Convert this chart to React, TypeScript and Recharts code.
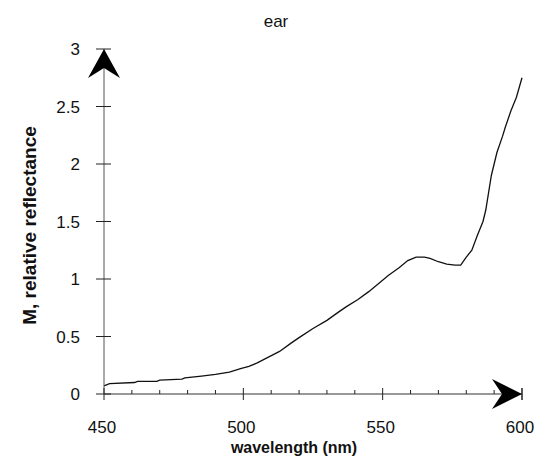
import { LineChart, Line, XAxis, YAxis, ReferenceDot, Label } from 'recharts';

// wavelength (nm) and relative reflectance
const wavelengths = [
  450, 452, 461, 462, 469, 470, 478, 479, 485, 490, 495, 499, 502, 505, 509, 513, 517, 520,
  525, 530, 534, 537, 541, 545, 549, 552, 556, 559, 562, 565, 567, 570, 573, 576, 578, 580,
  582, 584, 586, 587, 589, 591, 593, 594, 596, 598, 600,
];
const reflectance = [
  0.07, 0.09, 0.1, 0.11, 0.11, 0.12, 0.13, 0.14, 0.155, 0.17, 0.19, 0.22, 0.24, 0.27, 0.32, 0.37, 0.44, 0.49,
  0.57, 0.64, 0.71, 0.76, 0.82, 0.89, 0.97, 1.03, 1.1, 1.16, 1.19, 1.19, 1.18, 1.15, 1.13, 1.12, 1.12, 1.19,
  1.25, 1.38, 1.5, 1.6, 1.9, 2.1, 2.24, 2.32, 2.46, 2.58, 2.75,
];
const xTicks = [450, 460, 470, 480, 490, 500, 510, 520, 530, 540, 550, 560, 570, 580, 590, 600];
const xLabels = [450, 500, 550, 600];
const yTicks = [0, 0.5, 1, 1.5, 2, 2.5, 3];

const data = wavelengths.map((w, i) => ({ w, m: reflectance[i] }));

const font = '"Liberation Sans", Arial, sans-serif';

const XTick = (props: any) => {
  const { x, y, payload } = props;
  const major = xLabels.includes(payload.value);
  return (
    <g>
      {major ? (
        <line x1={x} x2={x} y1={y - 6} y2={y + 6} stroke="#222" />
      ) : (
        <line x1={x} x2={x} y1={y - 4} y2={y} stroke="#222" />
      )}
      {major && (
        <text x={x - 2} y={y + 39} textAnchor="middle" fontSize={17} fontFamily={font} fill="#111">
          {payload.value}
        </text>
      )}
    </g>
  );
};

const YTick = (props: any) => {
  const { x, y, payload } = props;
  return (
    <g>
      <line x1={x - 8} x2={x + 7} y1={y} y2={y} stroke="#222" />
      <text x={x - 24} y={y} dy="0.36em" textAnchor="end" fontSize={17} fontFamily={font} fill="#111">
        {payload.value}
      </text>
    </g>
  );
};

const UpArrow = (props: any) => {
  const { cx, cy } = props;
  return <path d={`M${cx},${cy} L${cx + 16},${cy + 29} L${cx},${cy + 19} L${cx - 16},${cy + 29} Z`} fill="#000" />;
};

const RightArrow = (props: any) => {
  const { cx, cy } = props;
  return (
    <g>
      <path d={`M${cx},${cy} L${cx - 30},${cy - 15} L${cx - 20},${cy} L${cx - 30},${cy + 15} Z`} fill="#000" />
      <line x1={cx} x2={cx} y1={cy - 6} y2={cy + 6} stroke="#222" />
    </g>
  );
};

const App = () => {
  return (
    <div style={{ position: 'absolute', left: 0, top: 0, width: 536, height: 470, background: '#fff' }}>
      <div
        style={{
          position: 'absolute',
          left: 0,
          top: 10,
          width: 552,
          textAlign: 'center',
          fontFamily: font,
          fontSize: 17,
          lineHeight: '24px',
          color: '#111',
        }}
      >
        ear
      </div>
      <LineChart width={536} height={470} data={data} margin={{ top: 49, right: 14, bottom: 14, left: 0 }}>
        <XAxis
          dataKey="w"
          type="number"
          domain={[450, 600]}
          ticks={xTicks}
          interval={0}
          tickSize={0}
          tickMargin={0}
          tick={<XTick />}
          tickLine={false}
          axisLine={{ stroke: '#333' }}
          height={62}
        >
          <Label
            content={(p: any) => {
              const vb = p.viewBox;
              return (
                <text
                  x={vb.x + vb.width / 2 - 19}
                  y={vb.y + 59}
                  textAnchor="middle"
                  fontSize={16}
                  fontWeight="bold"
                  fontFamily={font}
                  fill="#111"
                >
                  wavelength (nm)
                </text>
              );
            }}
          />
        </XAxis>
        <YAxis
          type="number"
          domain={[0, 3]}
          ticks={yTicks}
          interval={0}
          tickSize={0}
          tickMargin={0}
          tick={<YTick />}
          tickLine={false}
          axisLine={{ stroke: '#555' }}
          width={104}
        >
          <Label
            content={(p: any) => {
              const vb = p.viewBox;
              const cy = vb.y + vb.height / 2 + 4;
              return (
                <text
                  x={29}
                  y={cy}
                  transform={`rotate(-90, 29, ${cy})`}
                  textAnchor="middle"
                  dominantBaseline="central"
                  fontSize={19}
                  fontWeight="bold"
                  fontFamily={font}
                  fill="#111"
                >
                  M, relative reflectance
                </text>
              );
            }}
          />
        </YAxis>
        <Line
          type="linear"
          dataKey="m"
          stroke="#111"
          strokeWidth={1.3}
          dot={false}
          isAnimationActive={false}
        />
        <ReferenceDot x={450} y={3} ifOverflow="visible" shape={<UpArrow />} />
        <ReferenceDot x={600} y={0} ifOverflow="visible" shape={<RightArrow />} />
      </LineChart>
    </div>
  );
};

export default App;
